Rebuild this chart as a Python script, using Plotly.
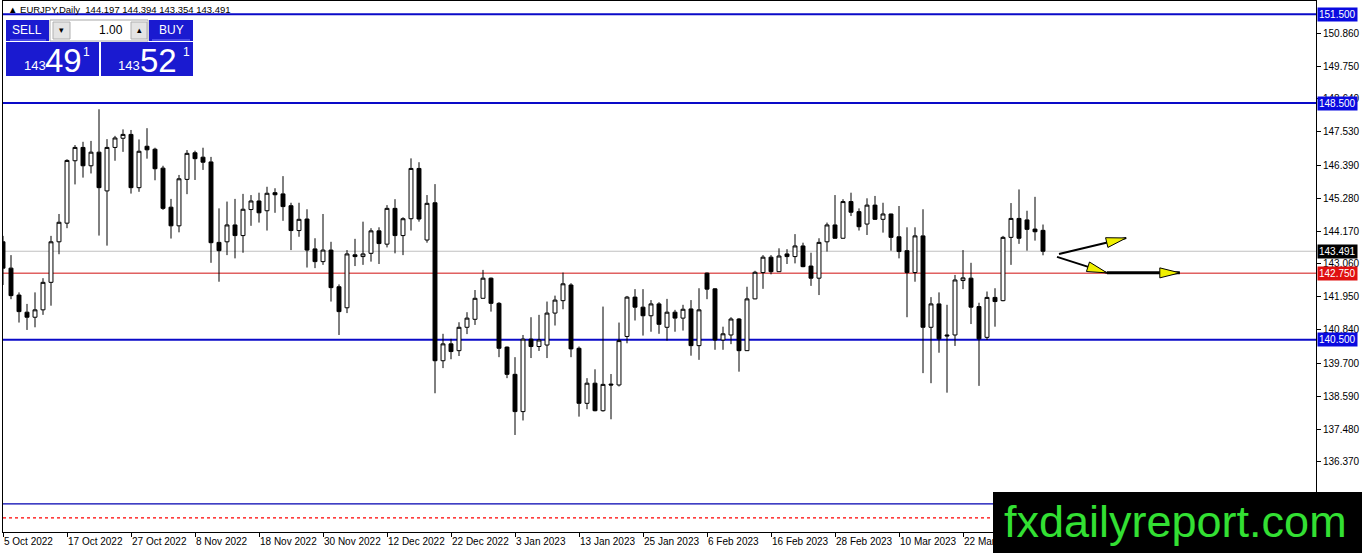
import plotly.graph_objects as go

# EURJPY daily bars, 5 Oct 2022 .. 5 Apr 2023
opens = [143.81, 142.92, 142.01, 141.43, 141.26, 141.51, 142.44, 143.81, 144.44, 146.55,
         147.00, 146.38, 146.84, 145.53, 147.00, 147.31, 147.44, 145.64, 147.04, 146.94,
         146.30, 144.98, 144.35, 145.92, 146.82, 146.67, 146.51, 143.79, 143.81, 144.38,
         144.02, 144.90, 145.19, 144.86, 145.47, 145.43, 145.03, 144.19, 144.58, 143.57,
         143.14, 143.53, 142.29, 141.58, 143.37, 143.31, 143.42, 144.18, 143.73, 144.94,
         144.02, 144.59, 146.29, 143.87, 145.13, 139.79, 140.36, 140.13, 140.92, 141.19,
         141.90, 142.58, 141.73, 140.25, 139.33, 138.07, 140.52, 140.27, 140.32, 141.40,
         141.82, 142.35, 140.21, 138.35, 139.03, 138.10, 139.00, 138.97, 140.61, 141.94,
         141.60, 141.31, 141.71, 140.92, 141.43, 141.23, 141.54, 140.30, 142.75, 142.22,
         140.49, 140.66, 141.20, 140.13, 141.88, 142.77, 143.29, 142.80, 143.40, 143.31,
         143.67, 142.99, 142.58, 143.81, 144.38, 143.93, 145.17, 144.83, 144.41, 145.05,
         144.57, 144.75, 143.98, 143.51, 142.77, 144.01, 140.92, 141.71, 140.66, 140.66,
         142.50, 142.58, 141.62, 140.58, 141.93, 141.82, 143.96, 144.60, 144.55, 144.24,
         144.197]
highs = [144.01, 143.36, 142.10, 141.71, 142.10, 142.58, 144.01, 144.75, 146.60, 147.08,
         147.19, 147.22, 148.29, 147.28, 147.39, 147.61, 147.59, 147.27, 147.65, 146.99,
         146.38, 145.26, 146.07, 146.91, 146.89, 146.99, 146.68, 144.94, 145.17, 145.26,
         145.43, 145.39, 145.47, 145.67, 145.62, 146.03, 145.13, 145.13, 144.91, 143.93,
         144.75, 143.81, 142.37, 143.53, 143.91, 144.49, 144.27, 144.30, 145.05, 145.25,
         144.64, 146.63, 146.50, 145.39, 145.76, 140.70, 140.53, 141.09, 141.43, 142.18,
         142.86, 142.60, 141.77, 140.27, 139.91, 140.66, 141.26, 141.34, 141.79, 141.99,
         142.77, 142.41, 140.27, 139.20, 139.50, 141.62, 139.34, 141.08, 141.98, 142.21,
         142.21, 141.84, 141.77, 141.88, 141.51, 141.68, 141.84, 142.24, 142.77, 142.24,
         140.94, 141.26, 141.23, 142.29, 142.83, 143.36, 143.36, 143.59, 143.56, 144.07,
         143.78, 143.44, 143.93, 144.46, 145.39, 145.25, 145.47, 144.94, 145.28, 145.36,
         145.13, 144.76, 145.02, 144.30, 144.30, 144.91, 141.94, 142.10, 141.68, 142.69,
         143.53, 143.10, 141.75, 142.13, 142.24, 144.01, 145.12, 145.58, 144.86, 145.33,
         144.394]
lows = [142.35, 141.87, 141.08, 140.83, 140.92, 141.34, 141.65, 143.39, 144.27, 145.75,
        145.98, 146.12, 144.02, 143.68, 146.55, 146.85, 145.44, 145.50, 146.62, 145.89,
        144.89, 143.92, 144.13, 145.42, 145.90, 146.24, 143.10, 142.46, 143.36, 143.25,
        143.44, 144.35, 144.46, 144.19, 144.79, 144.52, 143.53, 143.98, 142.94, 142.92,
        143.03, 141.79, 140.66, 141.40, 142.99, 143.03, 143.14, 143.06, 143.62, 143.42,
        143.36, 144.19, 144.49, 143.78, 138.69, 139.54, 139.84, 139.95, 140.69, 141.00,
        141.90, 141.45, 139.91, 139.20, 137.28, 137.77, 139.88, 140.12, 139.88, 140.98,
        141.53, 139.91, 137.90, 138.15, 138.08, 138.07, 137.81, 138.92, 140.38, 141.15,
        140.64, 140.77, 140.70, 140.47, 140.77, 140.81, 139.96, 139.82, 141.87, 140.16,
        140.16, 140.35, 139.42, 140.12, 141.87, 142.22, 142.71, 142.79, 143.06, 143.08,
        142.95, 142.32, 142.01, 143.48, 143.92, 143.92, 144.68, 144.19, 144.04, 144.55,
        144.12, 143.51, 143.25, 141.26, 142.46, 139.37, 139.03, 140.06, 138.71, 140.29,
        142.21, 141.03, 138.94, 140.49, 140.94, 141.80, 143.03, 143.74, 143.51, 143.85,
        143.354]
closes = [142.92, 141.99, 141.45, 141.26, 141.51, 142.44, 143.81, 144.47, 146.56, 147.00,
          146.38, 146.84, 145.64, 147.00, 147.32, 147.44, 145.64, 146.87, 146.92, 146.28,
          144.94, 144.35, 145.94, 146.80, 146.62, 146.50, 143.78, 143.51, 144.38, 144.02,
          144.91, 145.19, 144.79, 145.45, 145.40, 145.00, 144.19, 144.57, 143.53, 143.14,
          143.53, 142.26, 141.45, 143.40, 143.31, 143.40, 144.18, 143.75, 144.94, 144.02,
          144.59, 146.29, 144.58, 145.11, 139.79, 140.36, 140.10, 140.92, 141.23, 141.90,
          142.58, 141.73, 140.21, 139.33, 138.07, 140.52, 140.27, 140.49, 141.40, 141.84,
          142.39, 140.19, 138.35, 139.03, 138.10, 138.99, 138.97, 140.47, 141.94, 141.60,
          141.31, 141.71, 141.02, 141.43, 141.23, 141.53, 140.30, 141.51, 142.21, 140.49,
          140.70, 141.20, 140.13, 141.88, 142.78, 143.29, 142.80, 143.33, 143.31, 143.67,
          142.97, 142.58, 143.79, 144.38, 143.93, 145.17, 144.81, 144.32, 145.05, 144.57,
          144.75, 143.96, 143.48, 142.77, 144.01, 140.92, 141.71, 140.53, 140.63, 142.52,
          142.59, 141.60, 140.53, 141.93, 141.79, 143.96, 144.60, 143.93, 144.23, 144.15,
          143.491]

# one date label every 8 bars
date_labels = ["5 Oct 2022", "17 Oct 2022", "27 Oct 2022", "8 Nov 2022", "18 Nov 2022",
               "30 Nov 2022", "12 Dec 2022", "22 Dec 2022", "3 Jan 2023", "13 Jan 2023",
               "25 Jan 2023", "6 Feb 2023", "16 Feb 2023", "28 Feb 2023", "10 Mar 2023",
               "22 Mar 2023"]
label_step = 8

price_ticks = [150.860, 149.750, 148.640, 147.530, 146.390, 145.280, 144.170, 143.060,
               141.950, 140.840, 139.700, 138.590, 137.480, 136.370]

blue_levels = [151.5, 148.5, 140.5]
red_level = 142.75
last_price = 143.491
navy_level = 134.95
dotted_level = 134.48

# drawn arrows, (bar, price) points
arrow_up = [(132.0, 143.40), (140.4, 143.94)]
arrow_down = [(131.75, 143.30), (138.0, 142.76)]
arrow_flat = [(138.0, 142.76), (147.1, 142.76)]

x_range = [0, 164.125]
y_range = [134.0, 151.95]

W, H = 1362, 553
L, R, T, B = 3, 46, 1, 21
PW, PH = W - L - R, H - T - B


def to_px(xv, yv):
    xp = L + (xv - x_range[0]) / (x_range[1] - x_range[0]) * PW
    yp = T + PH - (yv - y_range[0]) / (y_range[1] - y_range[0]) * PH
    return xp, yp


def px(x):
    return (x - L) / PW


def py(y):
    return (T + PH - y) / PH


bars = list(range(len(opens)))

fig = go.Figure()

fig.add_trace(
    go.Candlestick(
        x=bars,
        open=opens,
        high=highs,
        low=lows,
        close=closes,
        increasing=dict(fillcolor="white", line=dict(color="black", width=1)),
        decreasing=dict(fillcolor="black", line=dict(color="black", width=1)),
        whiskerwidth=0,
        showlegend=False,
        hoverinfo="skip"
    )
)

shapes = []

for lv in blue_levels:
    shapes.append(dict(type="line", xref="paper", x0=0, x1=1, yref="y", y0=lv, y1=lv,
                       line=dict(color="#0a0ac8", width=2), layer="below"))

shapes.append(dict(type="line", xref="paper", x0=0, x1=1, yref="y", y0=last_price, y1=last_price,
                   line=dict(color="#c0c0c0", width=1), layer="below"))
shapes.append(dict(type="line", xref="paper", x0=0, x1=1, yref="y", y0=red_level, y1=red_level,
                   line=dict(color="#d01010", width=1), layer="below"))
shapes.append(dict(type="line", xref="paper", x0=0, x1=1, yref="y", y0=navy_level, y1=navy_level,
                   line=dict(color="#0000b0", width=1.3), layer="below"))
shapes.append(dict(type="line", xref="paper", x0=0, x1=1, yref="y", y0=dotted_level, y1=dotted_level,
                   line=dict(color="#ff0000", width=1.3, dash="3px,3px"), layer="below"))


def arrow(points, width):
    (x0, y0), (x1, y1) = points
    shapes.append(dict(type="line", xref="x", yref="y", x0=x0, y0=y0, x1=x1, y1=y1,
                       line=dict(color="black", width=width)))
    ax, ay = to_px(x0, y0)
    bx, by = to_px(x1, y1)
    d = ((bx - ax) ** 2 + (by - ay) ** 2) ** 0.5
    ux, uy = (bx - ax) / d, (by - ay) / d
    cx, cy = bx - 20 * ux, by - 20 * uy
    p1 = (cx - 5 * uy, cy + 5 * ux)
    p2 = (cx + 5 * uy, cy - 5 * ux)
    path = "M {} {} L {} {} L {} {} Z".format(px(bx), py(by), px(p1[0]), py(p1[1]),
                                              px(p2[0]), py(p2[1]))
    shapes.append(dict(type="path", xref="paper", yref="paper", path=path,
                       fillcolor="#f0f000", line=dict(color="black", width=1)))


arrow(arrow_up, 2)
arrow(arrow_down, 2)
arrow(arrow_flat, 3)

# one-click trading panel
blue = "#1a1ad0"
panel = [
    (6, 20, 49, 41, blue, None),
    (50, 20, 148, 41, "white", "#a8a8a8"),
    (53, 22, 70, 39, "#e4e4e4", "#b0b0b0"),
    (131, 22, 147, 39, "#e4e4e4", "#b0b0b0"),
    (149, 20, 193, 41, blue, None),
    (6, 42, 99, 76, blue, None),
    (101, 42, 193, 76, blue, None),
]
for x0, y0, x1, y1, col, edge in panel:
    shapes.append(dict(type="rect", xref="paper", yref="paper",
                       x0=px(x0), x1=px(x1), y0=py(y0), y1=py(y1),
                       fillcolor=col, line=dict(width=1 if edge else 0, color=edge or col)))

# thin light rules under the SELL / BUY captions
for x0, x1 in [(10, 46), (152, 190)]:
    shapes.append(dict(type="line", xref="paper", yref="paper",
                       x0=px(x0), x1=px(x1), y0=py(40), y1=py(40),
                       line=dict(color="#7878ff", width=1)))

# logo box
shapes.append(dict(type="rect", xref="paper", yref="paper",
                   x0=px(993), x1=px(1362), y0=py(492), y1=py(553),
                   fillcolor="black", line=dict(width=0), layer="above"))

annotations = []


def note(x, y, text, size, color="black", anchor="left", yref="paper", bg=None, font="Liberation Sans"):
    annotations.append(dict(
        xref="paper", yref=yref, x=px(x), y=py(y) if yref == "paper" else y,
        text=text, showarrow=False, xanchor=anchor, yanchor="middle",
        font=dict(family=font, size=size, color=color),
        bgcolor=bg, borderpad=1
    ))


note(6, 10, "▲ EURJPY,Daily  144.197 144.394 143.354 143.491", 9.5)

note(27, 30, "SELL", 12, "white", "center")
note(171, 30, "BUY", 12, "white", "center")
note(61, 30, "▾", 9, "black", "center")
note(139, 30, "▴", 9, "black", "center")
note(125, 30, "1.00", 12, "black", "right")
note(22, 66, "143", 13, "white")
note(43, 61, "49", 33, "white")
note(81, 52, "1", 12, "white")
note(116, 66, "143", 13, "white")
note(138, 61, "52", 33, "white")
note(181, 52, "1", 12, "white")

for lv in blue_levels:
    note(1317, lv, "{:.3f}".format(lv), 10, "white", yref="y", bg="#0a0ae0")
note(1317, last_price, "{:.3f}".format(last_price), 10, "white", yref="y", bg="black")
note(1317, red_level, "{:.3f}".format(red_level), 10, "white", yref="y", bg="#e01010")

note(1175, 521, "fxdailyreport.com", 45, "#33e033", "center")

fig.update_layout(
    width=W,
    height=H,
    margin=dict(l=L, r=R, t=T, b=B, autoexpand=False),
    plot_bgcolor="white",
    paper_bgcolor="white",
    shapes=shapes,
    annotations=annotations,
    font=dict(family="Liberation Sans", size=10, color="black"),
    xaxis=dict(
        range=x_range,
        rangeslider=dict(visible=False),
        tickvals=[i * label_step for i in range(len(date_labels))],
        ticktext=date_labels,
        tickangle=0,
        ticks="outside",
        ticklen=4,
        tickcolor="black",
        ticklabelposition="outside right",
        showgrid=False,
        zeroline=False,
        showline=True,
        linecolor="black",
        linewidth=1,
        mirror=True,
        automargin=False,
        tickfont=dict(size=10)
    ),
    yaxis=dict(
        range=y_range,
        side="right",
        tickvals=price_ticks,
        ticktext=["{:.3f}".format(v) for v in price_ticks],
        ticks="outside",
        ticklen=4,
        tickcolor="black",
        showgrid=False,
        zeroline=False,
        showline=True,
        linecolor="black",
        linewidth=1,
        mirror=True,
        automargin=False,
        tickfont=dict(size=10)
    )
)

fig.write_html("out.html", config={"displayModeBar": False},
               post_script="document.body.style.margin='0';document.body.style.overflow='hidden';")
